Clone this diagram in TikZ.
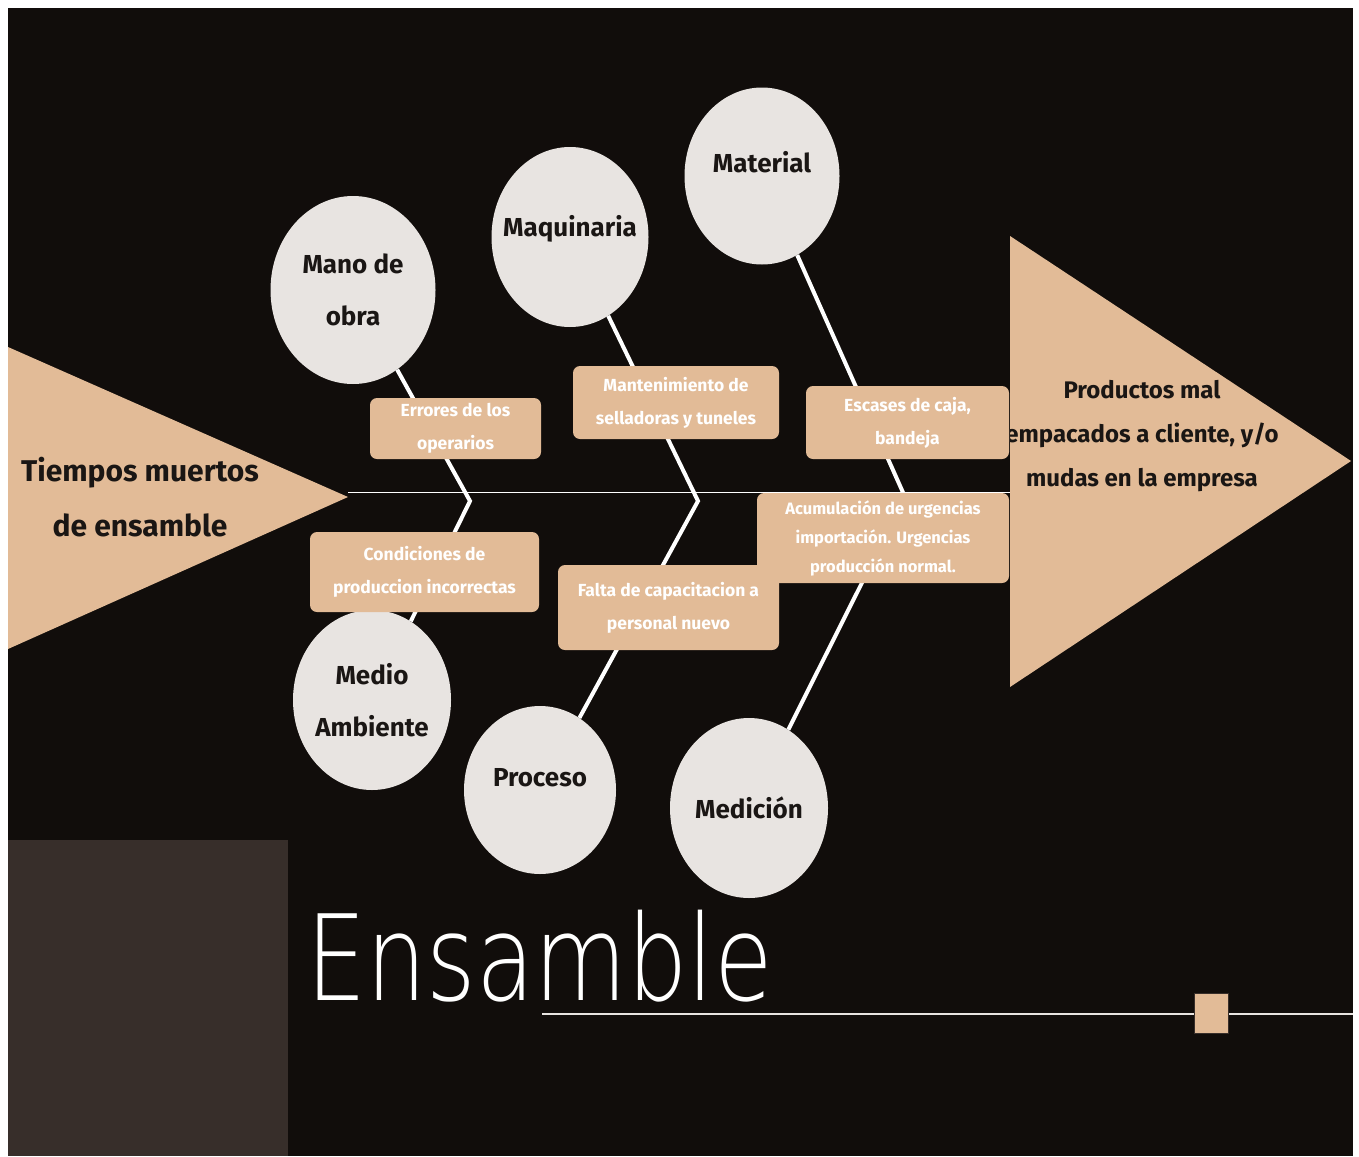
\documentclass[tikz,border=0pt]{standalone}
\usepackage{fontspec}
\setmainfont{Fira Sans}
\newfontfamily\finafont{DejaVu Sans ExtraLight}
\usetikzlibrary{shapes.geometric}
\definecolor{fondo}{RGB}{17,13,11}
\definecolor{panel}{RGB}{55,46,42}
\definecolor{arena}{RGB}{226,187,151}
\definecolor{hueso}{RGB}{232,228,225}
\definecolor{tinta}{RGB}{26,22,20}

\begin{document}
\begin{tikzpicture}[x=1pt, y=-1pt,
  causa/.style = {ellipse, fill=hueso, text=tinta, align=center, inner sep=-20pt, font=\fontsize{26}{52}\selectfont\bfseries},
  alta/.style = {text height=8pt, text depth=16pt},
  subcausa/.style = {rectangle, rounded corners=7pt, fill=arena, text=white, align=center, inner sep=0pt, font=\fontsize{17.5}{33}\selectfont\bfseries},
  espina/.style = {draw=white, line width=4pt}]
\useasboundingbox (0,0) rectangle (1359,1156);
\fill[white] (0,0) rectangle (1359,1156);
\fill[fondo] (8,8) rectangle (1353,1156);
\fill[panel] (8,840) rectangle (288,1156);
\fill[arena] (8,347) -- (348,497) -- (8,649) -- cycle;
\fill[arena] (1010,236) -- (1351,461) -- (1010,687) -- cycle;
\draw[white, line width=1pt] (348,492) -- (1010,492);
\node[text=tinta, align=center, font=\fontsize{30}{55}\selectfont\bfseries] (efecto) at (140,497) {Tiempos muertos\\de ensamble};
\node[text=tinta, align=center, font=\fontsize{24}{44}\selectfont\bfseries] (resultado) at (1142,436) {Productos mal\\empacados a cliente, y/o\\mudas en la empresa};
\coordinate (v1) at (470,501);
\coordinate (v2) at (698,501);
\coordinate (v3) at (905,497);
\node[causa, minimum width=165pt, minimum height=188pt] (mano) at (353,290) {Mano de\\obra};
\node[causa, text height=12pt, text depth=14pt, minimum width=157pt, minimum height=180pt] (maquinaria) at (570,237) {Maquinaria};
\node[causa, alta, minimum width=155pt, minimum height=177pt] (material) at (762,176) {Material};
\node[causa, minimum width=158pt, minimum height=180pt] (medio) at (372,700) {Medio\\Ambiente};
\node[causa, alta, minimum width=152pt, minimum height=168pt] (proceso) at (540,790) {Proceso};
\node[causa, minimum width=158pt, minimum height=180pt] (medicion) at (749,808) {Medición};
\draw[espina] (mano) -- (v1) -- (medio);
\draw[espina] (maquinaria) -- (v2) -- (proceso);
\draw[espina] (material) -- (v3) -- (medicion);
\node[subcausa, minimum width=171pt, minimum height=61pt] (errores) at (455.5,428.5) {Errores de los\\operarios};
\node[subcausa, minimum width=206pt, minimum height=73pt] (mantenimiento) at (676,402.5) {Mantenimiento de\\selladoras y tuneles};
\node[subcausa, minimum width=203pt, minimum height=73pt] (escases) at (907.5,422.5) {Escases de caja,\\bandeja};
\node[subcausa, minimum width=252pt, minimum height=90pt, font=\fontsize{16.5}{29}\selectfont\bfseries] (acumulacion) at (883,538) {Acumulación de urgencias\\importación. Urgencias\\producción normal.};
\node[subcausa, minimum width=229pt, minimum height=80pt] (condiciones) at (424.5,572) {Condiciones de\\produccion incorrectas};
\node[subcausa, minimum width=221pt, minimum height=85pt] (falta) at (668.5,607.5) {Falta de capacitacion a\\personal nuevo};
\node[anchor=base west, text=white, inner sep=0pt, font=\fontsize{119}{119}\selectfont\finafont] (titulo) at (306,1000) {\scalebox{0.8}[1]{Ensamble}};
\coordinate (finlinea) at (1353,1014);
\coordinate (iniciolinea) at (542,1014);
\draw[hueso, line width=2pt] (iniciolinea) -- (finlinea);
\node[fill=arena, draw=panel, minimum width=34pt, minimum height=40pt] (marca) at (1211,1013) {};
\end{tikzpicture}
\end{document}
